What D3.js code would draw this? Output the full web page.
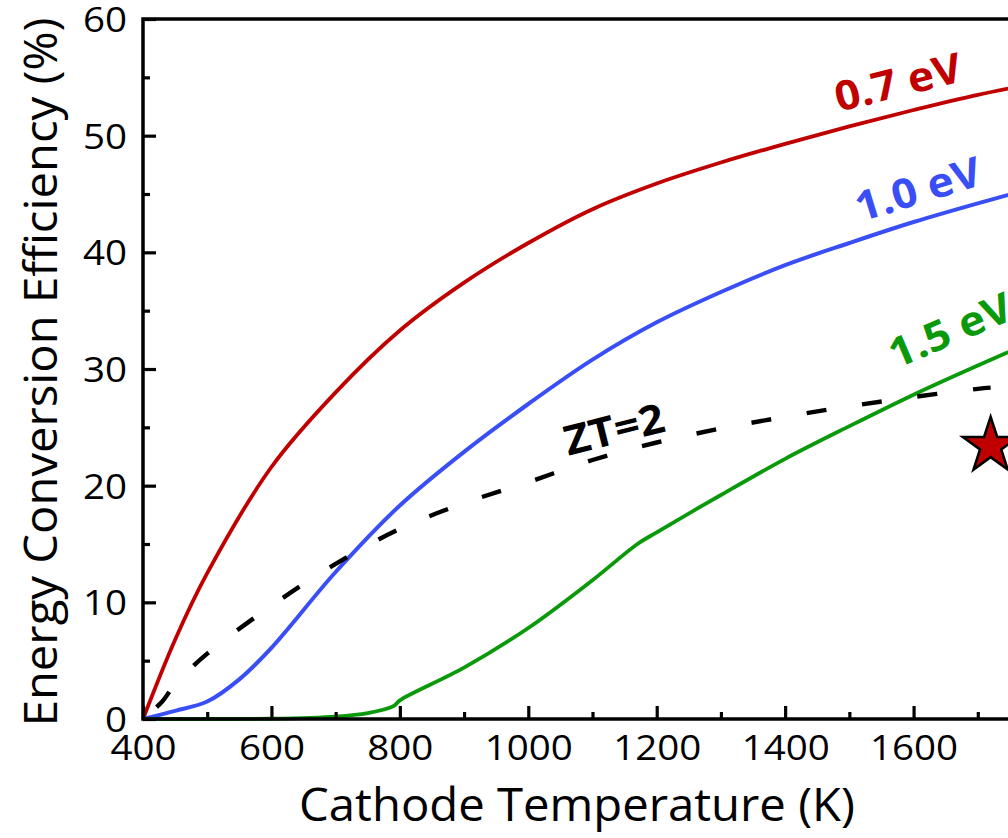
<!DOCTYPE html>
<html>
<head>
<meta charset="utf-8">
<script src="https://cdn.jsdelivr.net/npm/d3@7"></script>
<style>
  html, body { margin: 0; padding: 0; background: #fff; }
  svg { display: block; }
  text { font-family: "Open Sans", "Noto Sans", sans-serif; }
</style>
</head>
<body>
<svg id="chart" width="1008" height="838"></svg>
<script>
// ---------- data ----------
const tempsRed   = [400, 450, 500, 600, 700, 800, 900, 1000, 1100, 1200, 1300, 1400, 1500, 1600, 1700, 1800];
const effRed     = [0, 6.8, 12.5, 21.6, 28.0, 33.3, 37.4, 40.8, 43.7, 45.9, 47.7, 49.3, 50.8, 52.2, 53.5, 54.6];

const tempsBlue  = [400, 450, 500, 550, 600, 700, 800, 900, 1000, 1100, 1200, 1300, 1400, 1500, 1600, 1700, 1800];
const effBlue    = [0, 0.7, 1.5, 3.4, 6.1, 12.6, 18.3, 22.9, 27.0, 30.8, 34.0, 36.6, 38.9, 40.8, 42.6, 44.2, 45.7];

const tempsGreen = [400, 500, 600, 700, 750, 790, 800, 900, 1000, 1100, 1170, 1200, 1300, 1400, 1500, 1600, 1700, 1800];
const effGreen   = [0, 0, 0.02, 0.2, 0.5, 1.1, 1.6, 4.4, 7.8, 11.9, 15.0, 16.0, 19.2, 22.3, 25.1, 27.8, 30.3, 32.7];

const tempsZT    = [400, 430, 450, 500, 600, 700, 800, 900, 1000, 1100, 1200, 1300, 1400, 1500, 1600, 1700, 1720];
const effZT      = [0, 1.5, 3.0, 5.6, 9.7, 13.3, 16.3, 18.5, 20.3, 22.2, 23.7, 24.9, 25.9, 26.8, 27.6, 28.3, 28.4];

const starPoint  = [1720, 23.4];

const xMajorTicks = [400, 600, 800, 1000, 1200, 1400, 1600, 1800];
const xMinorTicks = [500, 700, 900, 1100, 1300, 1500, 1700];
const xTickLabels = ["400", "600", "800", "1000", "1200", "1400", "1600", ""];
const yMajorTicks = [0, 10, 20, 30, 40, 50, 60];
const yMinorTicks = [5, 15, 25, 35, 45, 55];

const seriesLabels = ["0.7 eV", "1.0 eV", "1.5 eV", "ZT=2"];
const xTitle = "Cathode Temperature (K)";
const yTitle = "Energy Conversion Efficiency (%)";

// ---------- layout ----------
const svg = d3.select("#chart");
const x = d3.scaleLinear().domain([400, 1800]).range([143, 1042]);
const y = d3.scaleLinear().domain([0, 60]).range([719, 19]);

const colRed = "#c00000", colBlue = "#3a4ef5", colGreen = "#0a990a";

const plot = svg.append("g");

function series(ts, vs) { return ts.map((t, i) => [t, vs[i]]); }
const line = d3.line().x(d => x(d[0])).y(d => y(d[1])).curve(d3.curveCatmullRom.alpha(0.5));

plot.append("path").datum(series(tempsRed, effRed))
  .attr("d", line).attr("fill", "none").attr("stroke", colRed).attr("stroke-width", 3.8);
plot.append("path").datum(series(tempsBlue, effBlue))
  .attr("d", line).attr("fill", "none").attr("stroke", colBlue).attr("stroke-width", 4);
plot.append("path").datum(series(tempsGreen, effGreen))
  .attr("d", line).attr("fill", "none").attr("stroke", colGreen).attr("stroke-width", 3.8);
plot.append("path").datum(series(tempsZT, effZT))
  .attr("d", line).attr("fill", "none").attr("stroke", "#000").attr("stroke-width", 4.4)
  .attr("stroke-dasharray", "20,36").attr("stroke-dashoffset", -18);

// star
const star = d3.symbol().type(d3.symbolStar).size(950);
plot.append("path").attr("d", star())
  .attr("transform", `translate(${x(starPoint[0])},${y(starPoint[1])})`)
  .attr("fill", colRed).attr("stroke", "#000").attr("stroke-width", 2.6);

// ---------- axes ----------
const fontTick = 35, SXT = 1.1;
const gx = svg.append("g").attr("transform", `translate(0,${y(0)})`)
  .call(d3.axisBottom(x).tickValues(xMajorTicks).tickSize(-13).tickPadding(16)
    .tickFormat((d, i) => xTickLabels[i]));
const gxm = svg.append("g").attr("transform", `translate(0,${y(0)})`)
  .call(d3.axisBottom(x).tickValues(xMinorTicks).tickSize(-7).tickFormat(""));
const gy = svg.append("g").attr("transform", `translate(${x(400)},0)`)
  .call(d3.axisLeft(y).tickValues(yMajorTicks).tickSize(-13).tickPadding(14).tickFormat(d3.format("d")));
const gym = svg.append("g").attr("transform", `translate(${x(400)},0)`)
  .call(d3.axisLeft(y).tickValues(yMinorTicks).tickSize(-7).tickFormat(""));

[gx, gxm, gy, gym].forEach(g => {
  g.select(".domain").remove();
  g.selectAll(".tick line").attr("stroke", "#000").attr("stroke-width", 3.2);
});
gx.selectAll(".tick text").attr("font-size", fontTick).attr("fill", "#000")
  .attr("font-family", "Open Sans").attr("dy", "0.71em")
  .attr("transform", `scale(${SXT},1)`);
gy.selectAll(".tick text").attr("font-size", fontTick).attr("fill", "#000")
  .attr("font-family", "Open Sans").attr("dy", "0.36em")
  .attr("x", -16 / SXT).attr("transform", `scale(${SXT},1)`);

// frame
svg.append("rect").attr("x", x(400)).attr("y", y(60))
  .attr("width", x(1800) - x(400)).attr("height", y(0) - y(60))
  .attr("fill", "none").attr("stroke", "#000").attr("stroke-width", 3.5);

// titles
const SXL = 1.05;
svg.append("text").attr("transform", `translate(577,821) scale(${SXL},1)`)
  .attr("text-anchor", "middle").attr("font-size", 45).text(xTitle);
svg.append("text").attr("transform", `translate(57,372) rotate(-90) scale(${SXL},1)`)
  .attr("text-anchor", "middle").attr("font-size", 45).text(yTitle);

// curve labels
const labelSpec = [
  { t: seriesLabels[0], c: colRed,   cx: 898, cy: 82,  a: -14 },
  { t: seriesLabels[1], c: colBlue,  cx: 918, cy: 189, a: -17 },
  { t: seriesLabels[2], c: colGreen, cx: 950, cy: 330, a: -23 },
  { t: seriesLabels[3], c: "#000",   cx: 614, cy: 429, a: -14 }
];
svg.selectAll("text.lab").data(labelSpec).join("text").attr("class", "lab")
  .attr("transform", d => `translate(${d.cx},${d.cy}) rotate(${d.a}) scale(1.08,1)`)
  .attr("text-anchor", "middle").attr("dy", "0.36em")
  .attr("font-size", 41).attr("font-weight", "bold").attr("fill", d => d.c).text(d => d.t);
</script>
</body>
</html>
